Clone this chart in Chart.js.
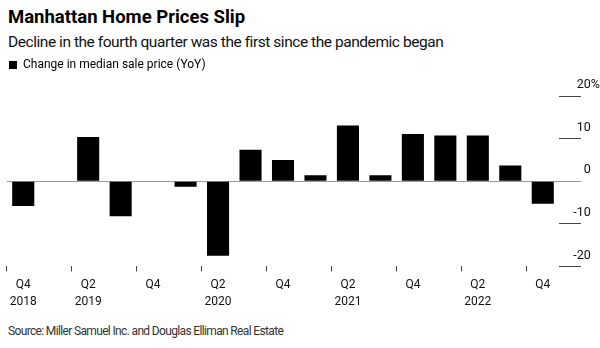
<!DOCTYPE html>
<html>
<head>
<meta charset="utf-8">
<script src="https://cdn.jsdelivr.net/npm/chart.js@4.4.0/dist/chart.umd.min.js"></script>
<style>
  body { margin: 0; background: #fff; width: 600px; height: 348px; overflow: hidden; font-family: Roboto, "Liberation Sans", sans-serif; }
  #title { position: absolute; left: 8px; top: 6px; font-size: 18.5px; font-weight: bold; color: #000; }
  #subtitle { position: absolute; left: 8px; top: 33px; font-size: 15.5px; letter-spacing: -0.45px; color: #111; }
  #wrap { position: absolute; left: 0; top: 52px; width: 600px; height: 263px; }
  #source { position: absolute; left: 8px; top: 324px; font-size: 12px; letter-spacing: -0.65px; color: #333; }
</style>
</head>
<body>
<div id="title">Manhattan Home Prices Slip</div>
<div id="subtitle">Decline in the fourth quarter was the first since the pandemic began</div>
<div id="wrap"><canvas id="grafico"></canvas></div>
<div id="source">Source: Miller Samuel Inc. and Douglas Elliman Real Estate</div>
<script>
// trimestres, Q4 2018 -> Q4 2022
const quarters = ['Q4 2018','Q1 2019','Q2 2019','Q3 2019','Q4 2019','Q1 2020','Q2 2020','Q3 2020','Q4 2020',
                  'Q1 2021','Q2 2021','Q3 2021','Q4 2021','Q1 2022','Q2 2022','Q3 2022','Q4 2022'];
// cambio interanual del precio mediano (%)
const yoyChange = [-5.8, -0.1, 10.4, -8.2, 0.1, -1.3, -17.5, 7.4, 5.0, 1.4, 13.1, 1.4, 11.1, 10.7, 10.7, 3.7, -5.3];
// etiquetas del eje x (solo Q4 y Q2)
const xTickLabels = [['Q4','2018'], '', ['Q2','2019'], '', 'Q4', '', ['Q2','2020'], '', 'Q4',
                     '', ['Q2','2021'], '', 'Q4', '', ['Q2','2022'], '', 'Q4'];
const yTicks = [-20, -10, 0, 10, 20];

const FONT = 'Roboto, "Liberation Sans", sans-serif';

// espacio extra debajo de la leyenda
const legendMargin = {
    id: 'legendMargin',
    beforeInit(chart) {
        const fitOrig = chart.legend.fit;
        chart.legend.fit = function fit() {
            fitOrig.bind(chart.legend)();
            this.height += 15;
        };
    }
};

document.addEventListener('DOMContentLoaded', function(){
    const ctx = document.getElementById('grafico').getContext('2d');
    new Chart(ctx, {
        type: 'bar',
        data: {
            labels: quarters,
            datasets: [{
                label: 'Change in median sale price (YoY)',
                data: yoyChange,
                backgroundColor: '#000',
                borderWidth: 0,
                barPercentage: 0.68,
                categoryPercentage: 1
            }]
        },
        plugins: [legendMargin],
        options: {
            responsive: true,
            maintainAspectRatio: false,
            animation: false,
            layout: { padding: { left: 7, right: 0, top: 5, bottom: 0 } },
            plugins: {
                tooltip: { enabled: false },
                legend: {
                    display: true,
                    align: 'start',
                    labels: {
                        boxWidth: 8,
                        boxHeight: 8,
                        color: '#000',
                        padding: 2,
                        font: { family: FONT, size: 12 }
                    }
                }
            },
            scales: {
                x: {
                    border: { display: false },
                    grid: {
                        drawOnChartArea: false,
                        tickLength: 5,
                        tickColor: c => (c.index % 2 === 0 ? '#444' : 'transparent')
                    },
                    ticks: {
                        autoSkip: false,
                        maxRotation: 0,
                        padding: 5,
                        color: '#111',
                        font: { family: FONT, size: 12, lineHeight: 1.4 },
                        callback: (v, i) => xTickLabels[i]
                    }
                },
                y: {
                    position: 'right',
                    min: yTicks[0],
                    max: yTicks[yTicks.length - 1],
                    border: { display: false },
                    afterBuildTicks: axis => { axis.ticks = yTicks.map(v => ({ value: v })); },
                    afterFit: axis => { axis.width = 41; },
                    grid: {
                        tickLength: 22,
                        color: c => (c.tick && c.tick.value === 0 ? '#999' : 'transparent'),
                        tickColor: c => (c.tick && c.tick.value === 0 ? '#999' : '#444')
                    },
                    ticks: {
                        padding: -18.6,
                        crossAlign: 'far',
                        labelOffset: -11,
                        color: '#111',
                        font: { family: FONT, size: 12.5 },
                        callback: v => (v === 20 ? '20%' : v + '   ')
                    }
                }
            }
        }
    });
});
</script>
</body>
</html>
